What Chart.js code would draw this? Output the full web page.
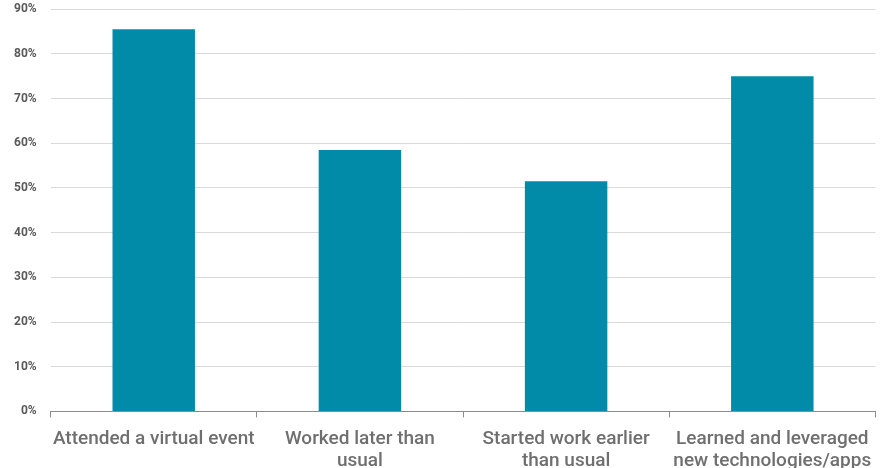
<!DOCTYPE html>
<html>
<head>
<meta charset="utf-8">
<script src="https://cdn.jsdelivr.net/npm/chart.js@4/dist/chart.umd.min.js"></script>
<style>
    html, body { margin: 0; padding: 0; background: #fff; overflow: hidden; }
    #wrap { width: 882px; height: 495px; position: relative; top: -12px; }
</style>
</head>
<body>
<div id="wrap"><canvas id="chart"></canvas></div>
<script>
const categories = [
    'Attended a virtual event',
    ['Worked later than', 'usual'],
    ['Started work earlier', 'than usual'],
    ['Learned and leveraged', 'new technologies/apps'],
];
const shares = [85.5, 58.5, 51.5, 75];
const yMax = 90;
const yStep = 10;

const barColor = '#028ba8';
const tickColor = '#595959';

new Chart(document.getElementById('chart').getContext('2d'), {
    type: 'bar',
    data: {
        labels: categories,
        datasets: [{
            data: shares,
            backgroundColor: barColor,
            barPercentage: 0.4,
            categoryPercentage: 1,
        }],
    },
    options: {
        responsive: true,
        maintainAspectRatio: false,
        animation: false,
        layout: { padding: { top: 4, right: 6, left: 0, bottom: 0 } },
        plugins: {
            legend: { display: false },
            tooltip: { enabled: false },
        },
        scales: {
            x: {
                grid: {
                    drawOnChartArea: false,
                    tickLength: 6,
                    color: '#8c8c8c',
                },
                border: { color: '#8c8c8c' },
                ticks: {
                    color: '#6f6f6f',
                    font: { family: 'Roboto', size: 19, weight: 500 },
                    maxRotation: 0,
                    autoSkip: false,
                    padding: 10,
                },
            },
            y: {
                min: 0,
                max: yMax,
                grid: {
                    color: '#d9d9d9',
                    drawTicks: false,
                },
                border: { display: false },
                ticks: {
                    stepSize: yStep,
                    color: tickColor,
                    padding: 14,
                    font: { family: 'Roboto', size: 12, weight: 'bold' },
                    callback: (v) => v + '%',
                },
            },
        },
    },
});
</script>
</body>
</html>
